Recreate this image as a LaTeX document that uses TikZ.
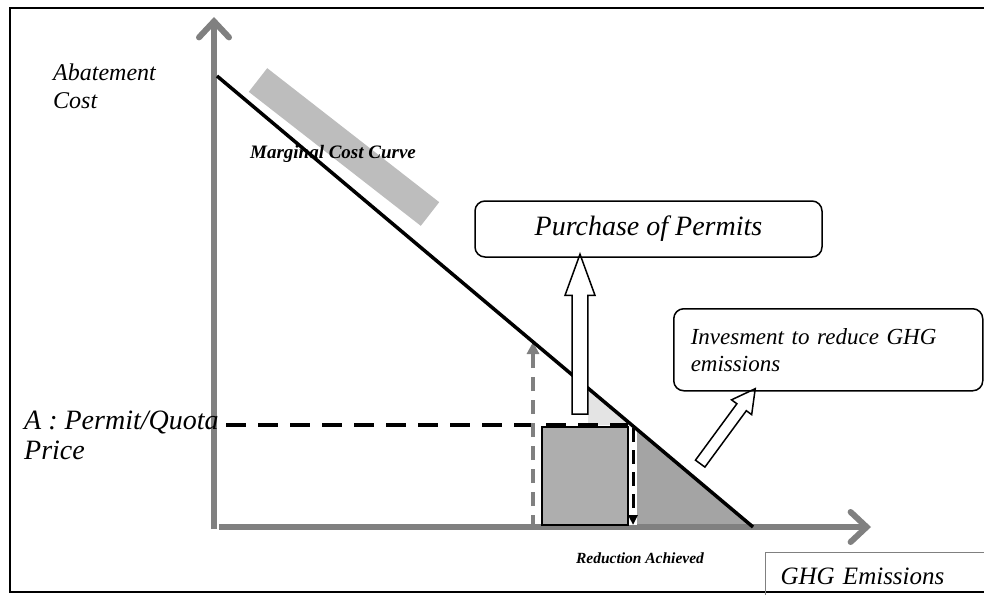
\documentclass[tikz,border=0pt]{standalone}
\usepackage{fontspec}
\setmainfont{Liberation Serif}
\usepackage{tikz}
\usetikzlibrary{arrows.meta,positioning,calc,shapes.arrows}

\definecolor{axisgray}{HTML}{808080}
\definecolor{bandgray}{HTML}{BDBDBD}
\definecolor{sqgray}{HTML}{AEAEAE}
\definecolor{trigray}{HTML}{A4A4A4}
\definecolor{palegray}{HTML}{E4E4E4}

\begin{document}
\begin{tikzpicture}[
    x=1pt, y=-1pt,
  axis/.style={draw=axisgray, line width=6pt, -{Straight Barb[length=16pt,width=30pt,line cap=round]}},
  mcc/.style={line width=3.5pt},
  band/.style={draw=bandgray, line width=30pt},
  lab/.style={font=\fontsize{24}{28}\selectfont\itshape, align=left, inner sep=0pt},
  tiny/.style={font=\fontsize{19}{21}\selectfont\bfseries\itshape, inner sep=0pt},
  tbox/.style={draw, line width=1.5pt, rounded corners=10pt},
  hollow/.style={single arrow, draw, fill=white, line width=1.5pt, inner xsep=0pt,
                 single arrow head indent=0pt},
  pdash/.style={line width=3.5pt, dash pattern=on 20pt off 12pt},
  gdash/.style={draw=axisgray, line width=3.5pt, dash pattern=on 14pt off 9pt}
]
\useasboundingbox (0,0) rectangle (984,594);

% ===== FRAME =====
\draw[line width=2pt] (990,8) -- (10,8) -- (10,592) -- (990,592);

% ===== COST CURVE =====
\coordinate (band_a) at (258,80);
\coordinate (band_b) at (430,214);
\draw[band] (band_a) -- (band_b);
\node[tiny] (mc_label) at (333,154) {Marginal Cost Curve};

\coordinate (mc_top) at (217,76);
\coordinate (mc_bot) at (753,527);

% shaded areas
\fill[palegray] (588,388) -- (588,425) -- (632,425) -- cycle;
\fill[trigray] (637,429) -- (637,527) -- (753,527) -- cycle;

% ===== AXES =====
\coordinate (y_base) at (214,529);
\coordinate (y_end) at (214,17);
\coordinate (x_base) at (219,527);
\coordinate (x_end) at (871,527);
\draw[axis] (y_base) -- (y_end);
\draw[axis] (x_base) -- (x_end);

% ===== PERMITS / REDUCTION =====
\node[draw, fill=sqgray, line width=2pt, minimum width=86pt, minimum height=98pt,
      inner sep=0pt, anchor=north west] (sq) at (541,426) {};

\coordinate (pr_start) at (226,425);
\coordinate (pr_end) at (628,425);
\draw[pdash] (pr_start) -- (pr_end);

\coordinate (g_base) at (533,529);
\coordinate (g_tip) at (533,342);
\draw[gdash, -{Triangle[length=12pt,width=12pt]}] (g_base) -- (g_tip);

\coordinate (d_top) at (633,428);
\coordinate (d_bot) at (633,525);
\draw[white, line width=8pt] (d_top) -- (d_bot);
\draw[line width=3pt, dash pattern=on 14pt off 8pt, -{Triangle[length=10pt,width=9pt]}] (d_top) -- (d_bot);

\draw[mcc] (mc_top) -- (mc_bot);

% ===== HOLLOW ARROWS =====
\coordinate (up_tail) at (580,425);
\coordinate (up_tip) at (580,265);
\node[hollow, rotate=90, minimum height=160pt, inner ysep=7pt, minimum width=30pt,
      single arrow head extend=7pt, single arrow tip angle=40] (up_arr)
      at ($(up_tail)!0.5!(up_tip)$) {};

\coordinate (inv_tail) at (697,468);
\coordinate (inv_tip) at (752,393);
\node[hollow, rotate=53.7, minimum height=93pt, inner ysep=5pt, minimum width=25pt,
      single arrow head extend=6.5pt, single arrow tip angle=57] (inv_arr)
      at ($(inv_tail)!0.5!(inv_tip)$) {};

% ===== TEXT BOXES =====
\node[tbox, minimum width=347pt, minimum height=56pt,
      font=\fontsize{28}{32}\selectfont\itshape] (perm_box) at (648.5,229) {Purchase of Permits};
\node[tbox, anchor=north west, text width=275pt, inner xsep=17pt, minimum height=82pt,
      align=left, font=\fontsize{23}{27}\selectfont\itshape] (inv_box) at (673,308)
      {Invesment to reduce GHG\\emissions};
\node[draw=gray, line width=1pt, anchor=north west, text width=200pt, inner xsep=15pt,
      minimum height=48pt, align=left, font=\fontsize{25}{30}\selectfont\itshape] (ghg_box)
      at (765,552) {GHG Emissions};

% ===== LABELS =====
\node[lab, anchor=west] (ac_label) at (53,86) {Abatement\\Cost};
\node[lab, anchor=west, font=\fontsize{28}{30}\selectfont\itshape] (price_label) at (24,435)
      {A : Permit/Quota\\Price};
\node[tiny, font=\fontsize{15.5}{17}\selectfont\bfseries\itshape] (red_label) at (640,558)
      {Reduction Achieved};

\end{tikzpicture}
\end{document}
